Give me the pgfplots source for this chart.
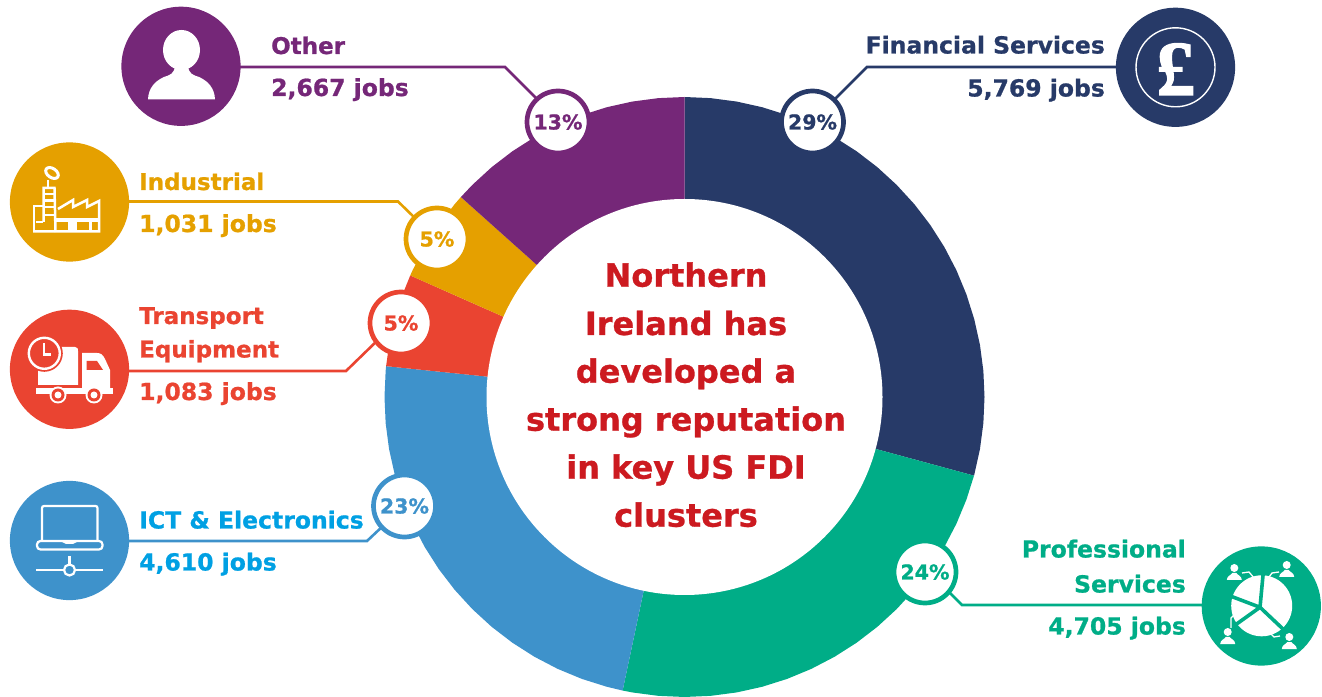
\documentclass[border=0pt]{standalone}
\usepackage{fontspec}
\usepackage{pgfplots}
\pgfplotsset{compat=1.18}
\setmainfont[BoldFeatures={FakeBold=0.9}]{DejaVu Sans}
\newfontfamily\poundfont[BoldFeatures={FakeBold=1.5}]{Liberation Serif}

\definecolor{cNavy}{HTML}{273A68}
\definecolor{cGreen}{HTML}{00AD87}
\definecolor{cBlue}{HTML}{3E92CB}
\definecolor{cSky}{HTML}{00A0E3}
\definecolor{cRed}{HTML}{EA4431}
\definecolor{cGold}{HTML}{E5A000}
\definecolor{cPurple}{HTML}{752778}
\definecolor{cTitle}{HTML}{CC1A20}

% label helpers, all in reference pixels
\newcommand{\lblL}[4]{\node[anchor=base west,inner sep=0,text=#1,font=\fontsize{23.5}{28}\selectfont\bfseries] at (#2,#3) {#4};}
\newcommand{\lblR}[4]{\node[anchor=base east,inner sep=0,text=#1,font=\fontsize{23.5}{28}\selectfont\bfseries] at (#2,#3) {#4};}
\newcommand{\nm}{\fontsize{23}{28}\selectfont}
\newcommand{\ttl}[2]{\node[anchor=base,inner sep=0,text=cTitle,font=\fontsize{32}{38}\selectfont\bfseries] at (686,#1) {#2};}
\newcommand{\badge}[4]{%
  \draw[#1,line width=4.7pt,fill=white] (#2,#3) circle (31);
  \node[anchor=base,inner sep=0,text=#1,font=\fontsize{20.5}{24}\selectfont\bfseries] at (#2,#3+7.5) {#4};}
\newcommand{\person}[2]{%
  \fill[white] (#1,#2-5) circle (4);
  \fill[white] (#1-7.5,#2+7) .. controls (#1-7.5,#2+3) and (#1-3,#2+2) .. (#1-2,#2) -- (#1+2,#2) .. controls (#1+3,#2+2) and (#1+7.5,#2+3) .. (#1+7.5,#2+7) -- cycle;}

\begin{document}
\begin{tikzpicture}
\begin{axis}[
    hide axis,
    scale only axis,
    x=1pt, y=1pt,
    xmin=-684.5, xmax=637.5,
    ymin=-299, ymax=397,
    every axis plot/.append style={draw=none},
]
% sectors: (angle, radius), clockwise from the top
\addplot[fill=cNavy, data cs=polar] coordinates {
    (0,0) (90,300) (85,300) (80,300) (75,300) (70,300) (65,300) (60,300) (55,300) (50,300) (45,300) (40,300)
    (35,300) (30,300) (25,300) (20,300) (15,300) (10,300) (5,300) (0,300) (-5,300) (-10,300) (-15,300) (-15.2,300)
} -- cycle;
\addplot[fill=cGreen, data cs=polar] coordinates {
    (0,0) (-15.2,300) (-20,300) (-25,300) (-30,300) (-35,300) (-40,300) (-45,300) (-50,300) (-55,300) (-60,300)
    (-65,300) (-70,300) (-75,300) (-80,300) (-85,300) (-90,300) (-95,300) (-100,300) (-101.9,300)
} -- cycle;
\addplot[fill=cBlue, data cs=polar] coordinates {
    (0,0) (-101.9,300) (-105,300) (-110,300) (-115,300) (-120,300) (-125,300) (-130,300) (-135,300) (-140,300)
    (-145,300) (-150,300) (-155,300) (-160,300) (-165,300) (-170,300) (-175,300) (-180,300) (-185,300) (-185.9,300)
} -- cycle;
\addplot[fill=cRed, data cs=polar] coordinates {
    (0,0) (-185.9,300) (-190,300) (-195,300) (-200,300) (-203.9,300)
} -- cycle;
\addplot[fill=cGold, data cs=polar] coordinates {
    (0,0) (-203.9,300) (-205,300) (-210,300) (-215,300) (-220,300) (-221.8,300)
} -- cycle;
\addplot[fill=cPurple, data cs=polar] coordinates {
    (0,0) (-221.8,300) (-225,300) (-230,300) (-235,300) (-240,300) (-245,300) (-250,300) (-255,300) (-260,300) (-265,300) (-270,300)
} -- cycle;
\end{axis}

% everything else in reference pixels, y down
\begin{scope}[x=1pt,y=-1pt,yshift=696pt]
\path (0,0) rectangle (1322,696);
\fill[white] (684.5,397) circle (198);

% leader lines
\draw[cPurple,line width=2.6pt] (240,67) -- (505,67) -- (540,102);
\draw[cGold,line width=2.6pt] (129,201.5) -- (398,201.5) -- (418,221);
\draw[cRed,line width=2.6pt] (129,371) -- (346,371) -- (380,338);
\draw[cBlue,line width=2.6pt] (129,541) -- (367,541) -- (384,525);
\draw[cNavy,line width=2.6pt] (1116,67) -- (867,67) -- (832,102);
\draw[cGreen,line width=2.6pt] (1202,605) -- (962,605) -- (945,588);

% big discs
\fill[cPurple] (181,66.3) circle (59.6);
\fill[cGold] (69.5,202) circle (59.6);
\fill[cRed] (69.5,369.3) circle (59.6);
\fill[cBlue] (69.5,540.5) circle (59.6);
\fill[cNavy] (1175.5,67.3) circle (59.6);
\fill[cGreen] (1261.3,606) circle (59.6);

% badges
\badge{cNavy}{812.5}{122}{29\%}
\badge{cPurple}{558}{122}{13\%}
\badge{cGold}{437}{239}{5\%}
\badge{cRed}{401}{323}{5\%}
\badge{cBlue}{404.5}{506}{23\%}
\badge{cGreen}{925}{572}{24\%}

% labels
\lblL{cPurple}{271}{54}{\nm Other}
\lblL{cPurple}{271}{96}{2,667 jobs}
\lblL{cGold}{139}{190}{\nm Industrial}
\lblL{cGold}{139}{232}{1,031 jobs}
\lblL{cRed}{139}{324}{\nm Transport}
\lblL{cRed}{139}{357.5}{\nm Equipment}
\lblL{cRed}{139}{400}{1,083 jobs}
\lblL{cSky}{139}{528.5}{ICT \& Electronics}
\lblL{cSky}{139}{570.5}{4,610 jobs}
\lblR{cNavy}{1105}{53.5}{Financial Services}
\lblR{cNavy}{1105}{96.5}{5,769 jobs}
\lblR{cGreen}{1186}{557.5}{Professional}
\lblR{cGreen}{1186}{592.5}{Services}
\lblR{cGreen}{1186}{634.5}{4,705 jobs}

% centre text
\ttl{286.7}{Northern}
\ttl{335}{Ireland has}
\ttl{382.7}{developed a}
\ttl{430.7}{strong reputation}
\ttl{478.7}{in key US FDI}
\ttl{526.7}{clusters}

% person icon
\fill[white] (181.5,50) ellipse (18.5 and 20);
\fill[white] (148,99.3) .. controls (148.5,88) and (155,81) .. (164,77) .. controls (170,75) and (174,74) .. (175,66)
  -- (188,66) .. controls (189,74) and (193,75) .. (199,77) .. controls (208,81) and (214.5,88) .. (215,99.3) -- cycle;

% factory icon
\begin{scope}[white,line width=2.5pt,line join=miter]
\draw (34,232) -- (34,206) -- (43,206);
\draw (43.5,222) -- (43.5,188) -- (54.5,188) -- (55.5,232);
\draw (33,231.5) -- (99,231.5) -- (99,201) -- (87,207) -- (87,200) -- (73,207) -- (73,200) -- (58,209);
\draw (44,194) -- (55,194);
\draw (44,200.5) -- (55,200.5);
\draw (44,207) -- (55,207);
\draw (36,222) -- (43,222);
\draw (43,215) -- (56,215);
\draw (48,180) -- (48,187);
\draw[line width=3pt,rotate around={-35:(52,173)}] (52,173) ellipse (7 and 4.5);
\fill[white] (56,218) rectangle (99,222);
\fill[white] (68,222) rectangle (77,231);
\fill[white] (89,222) rectangle (92,231);
\fill[cGold] (59,223.5) rectangle (66,230);
\fill[cGold] (79,223.5) rectangle (86,230);
\end{scope}

% truck icon
\fill[white] (38,347) -- (75,347) .. controls (78,347) and (78,349) .. (78,351) -- (78,385) -- (38,385) -- cycle;
\fill[white] (82,353) -- (97,353) .. controls (101,353) and (103,355) .. (105,359) -- (110,370) -- (110,388) -- (82,388) -- cycle;
\fill[cRed] (86.5,361) -- (97,361) -- (103,370) -- (86.5,370) -- cycle;
\fill[white] (36,388) rectangle (113,394);
\fill[white] (58,395) circle (8.5);
\fill[white] (94,395) circle (8.5);
\fill[cRed] (58,395) circle (6.5);
\fill[cRed] (94,395) circle (6.5);
\fill[white] (58,395) circle (3.5);
\fill[white] (94,395) circle (3.5);
\fill[cRed] (44.3,353.3) circle (18.5);
\draw[white,line width=2.4pt] (44.3,353.3) circle (15.5);
\draw[white,line width=2.2pt] (44.3,343) -- (44.3,354.5) -- (51,354.5);

% laptop icon
\begin{scope}[white,line width=2.2pt]
\draw[rounded corners=2pt] (42,541) -- (42,506) -- (97.5,506) -- (97.5,541);
\draw[rounded corners=3.5pt] (37,541) -- (37,549.5) -- (102.5,549.5) -- (102.5,541) -- cycle;
\draw[line width=1.6pt] (50,541) -- (62,541) -- (66,543) -- (73,543) -- (77,541) -- (89,541);
\draw (69.5,556) -- (69.5,565);
\draw (36,570) -- (64,570);
\draw (75,570) -- (103,570);
\draw (69.5,570) circle (5.5);
\end{scope}

% pound icon
\draw[white,line width=1.4pt] (1175.5,67.3) circle (39.5);
\node[anchor=base,inner sep=0,text=white,font=\poundfont\fontsize{78}{78}\selectfont\bfseries] at (1175.8,95) {£};

% pie icon
\fill[white] (1261.7,605.8) circle (30.5);
\begin{scope}[cGreen,line width=3.6pt]
\draw (1260,607.3) -- (1263.3,572);
\draw (1260,607.3) -- (1229,595.5);
\draw (1260,607.3) -- (1231,628);
\draw (1260,607.3) -- (1284,630);
\end{scope}
\person{1234.3}{573}
\person{1286.7}{570}
\person{1227.7}{637}
\person{1289.3}{642}
\begin{scope}[white,line width=1.3pt]
\draw (1242,573) -- (1249,572) -- (1254,578);
\draw (1279,572) -- (1272,573) -- (1269,577);
\draw (1231,628) -- (1231,618) -- (1235,614);
\draw (1280,636) -- (1274,637) -- (1271,634);
\end{scope}
\end{scope}
\end{tikzpicture}
\end{document}
